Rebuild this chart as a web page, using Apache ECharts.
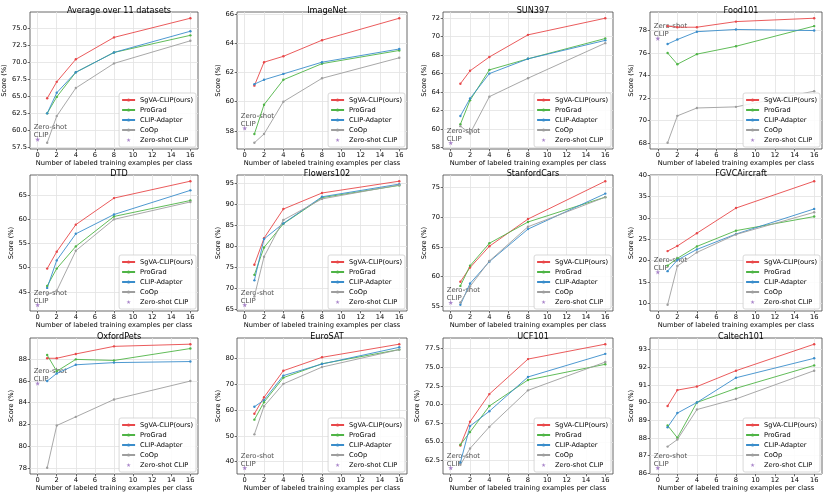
<!DOCTYPE html>
<html><head><meta charset="utf-8">
<script src="https://cdn.jsdelivr.net/npm/echarts@6/dist/echarts.min.js"></script>
<style>html,body{margin:0;padding:0;background:#fff}#c{width:830px;height:496px}</style>
</head><body><div id="c"></div>
<script>
// ---------------- data ----------------
const shots = [1, 2, 4, 8, 16];
const xTicks = [0, 2, 4, 6, 8, 10, 12, 14, 16];
const datasets = ['Average over 11 datasets', 'ImageNet', 'SUN397', 'Food101',
  'DTD', 'Flowers102', 'StanfordCars', 'FGVCAircraft',
  'OxfordPets', 'EuroSAT', 'UCF101', 'Caltech101'];
const methods = ['SgVA-CLIP(ours)', 'ProGrad', 'CLIP-Adapter', 'CoOp'];
const zeroShotName = 'Zero-shot CLIP';

const sgva = [
  [64.7, 67.1, 70.4, 73.6, 76.4],
  [61.1, 62.7, 63.1, 64.2, 65.7],
  [64.9, 66.3, 67.8, 70.2, 72.0],
  [78.4, 78.3, 78.3, 78.8, 79.1],
  [49.8, 53.3, 58.9, 64.4, 67.9],
  [75.6, 81.9, 88.8, 92.6, 95.4],
  [59.1, 61.5, 65.1, 69.7, 76.1],
  [22.2, 23.4, 26.4, 32.3, 38.6],
  [88.1, 88.1, 88.5, 89.2, 89.4],
  [58.6, 65.0, 75.3, 80.5, 85.6],
  [64.5, 67.7, 71.4, 76.1, 78.1],
  [89.8, 90.7, 90.9, 91.8, 93.3]
];
const prograd = [
  [62.5, 64.9, 68.5, 71.4, 73.9],
  [57.8, 59.8, 61.5, 62.6, 63.5],
  [60.5, 63.1, 66.4, 67.6, 69.8],
  [76.0, 75.0, 75.9, 76.6, 78.4],
  [46.2, 49.8, 54.4, 60.6, 63.9],
  [73.2, 79.7, 85.3, 91.5, 94.4],
  [58.4, 61.8, 65.6, 69.2, 73.4],
  [18.8, 20.5, 23.3, 27.0, 30.3],
  [88.4, 86.9, 88.0, 87.9, 89.0],
  [56.3, 63.1, 72.6, 78.0, 83.5],
  [64.6, 66.3, 69.8, 73.3, 75.4],
  [88.7, 88.0, 90.0, 90.8, 92.1]
];
const adapter = [
  [62.5, 65.5, 68.5, 71.4, 74.5],
  [61.2, 61.5, 61.9, 62.7, 63.6],
  [61.4, 63.3, 66.0, 67.6, 69.6],
  [76.8, 77.2, 77.9, 78.1, 78.0],
  [45.8, 51.5, 57.0, 61.0, 66.0],
  [71.9, 81.7, 85.4, 91.7, 94.7],
  [55.2, 58.8, 62.5, 68.0, 74.0],
  [17.5, 20.1, 22.6, 26.2, 32.1],
  [86.0, 86.7, 87.5, 87.7, 87.8],
  [61.3, 63.9, 73.4, 77.9, 84.4],
  [62.2, 67.1, 69.1, 73.7, 76.8],
  [88.6, 89.4, 90.0, 91.4, 92.5]
];
const coop = [
  [58.2, 62.1, 66.2, 69.8, 73.1],
  [57.2, 57.8, 60.0, 61.6, 63.0],
  [60.3, 59.5, 63.5, 65.5, 69.3],
  [68.0, 70.4, 71.1, 71.2, 72.6],
  [44.4, 45.2, 53.5, 60.0, 63.6],
  [68.1, 77.5, 86.2, 91.2, 94.5],
  [55.6, 58.3, 62.6, 68.4, 73.4],
  [9.6, 18.7, 21.9, 26.1, 31.3],
  [78.0, 81.9, 82.7, 84.3, 86.0],
  [50.6, 61.5, 70.2, 76.7, 83.5],
  [61.9, 64.1, 67.0, 71.9, 75.7],
  [87.5, 87.9, 89.6, 90.2, 91.8]
];
const zeroShot = [58.7, 58.2, 58.5, 77.3, 42.3, 66.1, 55.6, 17.3, 85.8, 37.6, 61.5, 86.3];

const yTicks = [
  [57.5, 60, 62.5, 65, 67.5, 70, 72.5, 75],
  [58, 60, 62, 64, 66],
  [58, 60, 62, 64, 66, 68, 70, 72],
  [68, 70, 72, 74, 76, 78],
  [45, 50, 55, 60, 65],
  [65, 70, 75, 80, 85, 90, 95],
  [55, 60, 65, 70, 75],
  [10, 15, 20, 25, 30, 35, 40],
  [78, 80, 82, 84, 86, 88, 90],
  [40, 50, 60, 70, 80],
  [62.5, 65, 67.5, 70, 72.5, 75, 77.5],
  [86, 87, 88, 89, 90, 91, 92, 93]
];

// ---------------- layout / style ----------------
const W = 830, H = 496;
const colL = [30, 237, 443, 650], colR = [198, 407, 613, 822];
const rowT = [12, 175, 338], rowB = [149, 311, 474];
const FONT = 'DejaVu Sans';
const colorOf = {
  'SgVA-CLIP(ours)': '#e8484a',
  'ProGrad': '#4fb446',
  'CLIP-Adapter': '#3a8dcb',
  'CoOp': '#9e9e9e'
};
const purple = '#9467bd';
const star = 'path://M50,0 L61,35 L98,35 L68,57 L79,91 L50,70 L21,91 L32,57 L2,35 L39,35 Z';
const frameColor = '#444';
const gridColor = '#e2e2e2';

const grids = [], xAxes = [], yAxes = [], titles = [], legends = [], series = [];
const methodData = [sgva, prograd, adapter, coop];

datasets.forEach((name, i) => {
  const r = Math.floor(i / 4), c = i % 4;
  const l = colL[c], rr = colR[c], t = rowT[r], b = rowB[r];
  grids.push({ left: l, top: t, width: rr - l, height: b - t, show: true,
    borderColor: frameColor, borderWidth: 0.8, backgroundColor: 'transparent' });

  const vals = methodData.flatMap(s => s[i]).concat([zeroShot[i]]);
  const lo = Math.min(...vals), hi = Math.max(...vals), m = (hi - lo) * 0.05;
  const ticks = yTicks[i];
  const dec = ticks.some(v => v % 1 !== 0);

  xAxes.push({
    type: 'value', gridIndex: i, min: -0.8, max: 16.8,
    name: 'Number of labeled training examples per class',
    nameLocation: 'middle', nameGap: 10,
    nameTextStyle: { fontSize: 6.7, color: '#000', fontFamily: FONT },
    axisLine: { show: false, onZero: false },
    axisTick: { show: true, customValues: xTicks, length: 2.3, lineStyle: { color: frameColor, width: 0.8 } },
    axisLabel: { customValues: xTicks, fontSize: 6.7, color: '#000', margin: 3, fontFamily: FONT },
    splitLine: { show: true, lineStyle: { color: gridColor, width: 0.8 } }
  });
  yAxes.push({
    type: 'value', gridIndex: i, min: lo - m, max: hi + m,
    name: 'Score (%)', nameLocation: 'middle', nameGap: dec ? 20.5 : 13.5,
    nameTextStyle: { fontSize: 6.7, color: '#000', fontFamily: FONT },
    axisLine: { show: false, onZero: false },
    axisTick: { show: true, customValues: ticks, length: 2.3, lineStyle: { color: frameColor, width: 0.8 } },
    axisLabel: { customValues: ticks, fontSize: 6.7, color: '#000', margin: 3, fontFamily: FONT,
      formatter: v => dec ? Number(v).toFixed(1) : String(v) },
    splitLine: { show: true, lineStyle: { color: gridColor, width: 0.8 } }
  });
  titles.push({ text: name, left: (l + rr) / 2, top: t - 10.5, textAlign: 'center',
    textStyle: { fontSize: 8.1, fontWeight: 'normal', color: '#000', fontFamily: FONT } });
  legends.push({
    data: methods.concat([zeroShotName]), orient: 'vertical', align: 'left',
    right: W - (rr - 2), bottom: H - (b - 2),
    itemWidth: 13, itemHeight: 4, itemGap: 2, padding: [3, 3, 3, 2],
    borderColor: '#cfcfcf', borderWidth: 0.8, borderRadius: 2,
    backgroundColor: 'rgba(255,255,255,0.85)', selectedMode: false,
    textStyle: { fontSize: 6.6, lineHeight: 8, color: '#000', fontFamily: FONT }
  });

  methodData.forEach((arr, k) => {
    const col = colorOf[methods[k]];
    series.push({
      type: 'line', name: methods[k], xAxisIndex: i, yAxisIndex: i,
      data: shots.map((x, j) => [x, arr[i][j]]),
      symbol: 'circle', symbolSize: 2.4, showSymbol: true,
      lineStyle: { width: 0.9, color: col }, itemStyle: { color: col },
      emphasis: { disabled: true }, animation: false
    });
  });
  series.push({
    type: 'scatter', name: zeroShotName, xAxisIndex: i, yAxisIndex: i,
    data: [[0, zeroShot[i]]], symbol: star, symbolSize: 5,
    itemStyle: { color: purple }, emphasis: { disabled: true }, animation: false,
    label: { show: true, formatter: 'Zero-shot\nCLIP', position: [-1.5, -13.5],
      fontSize: 6.9, lineHeight: 8, color: '#222', fontFamily: FONT }
  });
});

const chart = echarts.init(document.getElementById('c'));
chart.setOption({
  animation: false,
  backgroundColor: '#fff',
  textStyle: { fontFamily: FONT },
  title: titles, grid: grids, xAxis: xAxes, yAxis: yAxes, legend: legends, series: series
});
</script></body></html>
